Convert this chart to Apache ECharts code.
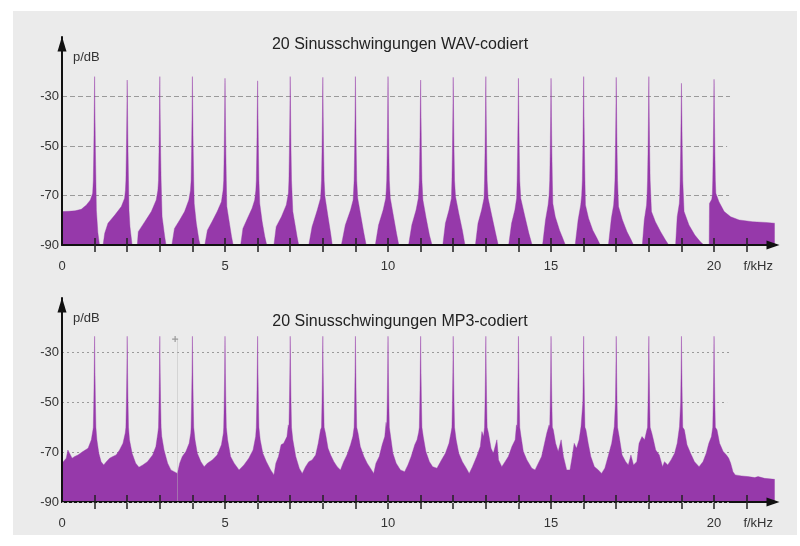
<!DOCTYPE html>
<html>
<head>
<meta charset="utf-8">
<script src="https://cdn.jsdelivr.net/npm/echarts@6/dist/echarts.min.js"></script>
<style>
  html, body { margin: 0; padding: 0; background: #ffffff; }
  #chart { width: 800px; height: 546px; }
</style>
</head>
<body>
<div id="chart"></div>
<script>
// Frequency axis (kHz) and level axis (dB)
const freqTicks = [1, 2, 3, 4, 5, 6, 7, 8, 9, 10, 11, 12, 13, 14, 15, 16, 17, 18, 19, 20, 21];
const freqLabels = [0, 5, 10, 15, 20];
const levelLabels = [-90, -70, -50, -30];
const gridLevels = [-30, -50, -70];
const gridEndFreq = [20.49, 20.4, 20.46];
// dotted reference line drawn along the MP3 baseline
const mp3BaseLevel = -90;
const mp3BaseEndFreq = 20.46;

// Spectrum of the WAV file: [frequency kHz, level dB]
const wavSpectrum = [
  [0,-76.5],[0.2,-76.4],[0.4,-76.2],[0.59,-75.6],[0.75,-73.8],[0.87,-71.8],[0.94,-69.1],
  [0.96,-64],[0.975,-52],[0.988,-38],[1,-22.0],[1.012,-38],[1.025,-52],[1.04,-64],
  [1.055,-76],[1.1,-85],[1.15,-90],
  [1.26,-90],[1.31,-85.3],[1.41,-81.2],[1.62,-77.9],[1.82,-74.5],[1.92,-71.1],[1.945,-68],
  [1.96,-64],[1.975,-52],[1.988,-38],[2,-23.4],[2.012,-38],[2.025,-52],[2.04,-64],
  [2.055,-76],[2.085,-82.6],[2.15,-90],
  [2.31,-90],[2.34,-84.6],[2.54,-80.6],[2.74,-76.5],[2.89,-71.8],[2.94,-68],
  [2.96,-64],[2.975,-52],[2.988,-38],[3,-22.0],[3.012,-38],[3.025,-52],[3.04,-64],
  [3.07,-78.6],[3.15,-86.6],[3.19,-90],
  [3.37,-90],[3.45,-83.3],[3.61,-79.9],[3.76,-76.5],[3.89,-71.8],[3.94,-68],
  [3.96,-64],[3.975,-52],[3.988,-38],[4,-22.0],[4.012,-38],[4.025,-52],[4.04,-64],
  [4.055,-73.2],[4.12,-81.2],[4.2,-88],[4.24,-90],
  [4.38,-90],[4.46,-84],[4.6,-80.6],[4.76,-76.5],[4.89,-72.5],[4.94,-68],
  [4.96,-64],[4.975,-52],[4.988,-38],[5,-22.7],[5.012,-38],[5.025,-52],[5.04,-64],
  [5.055,-74.5],[5.12,-79.9],[5.2,-86.6],[5.25,-90],
  [5.48,-90],[5.55,-83.3],[5.69,-79.2],[5.83,-75.2],[5.91,-71.8],[5.945,-68],
  [5.96,-64],[5.975,-52],[5.988,-38],[6,-23.7],[6.012,-38],[6.025,-52],[6.04,-64],
  [6.065,-73.2],[6.14,-80.6],[6.22,-86.6],[6.28,-90],
  [6.5,-90],[6.57,-82.6],[6.73,-78.6],[6.88,-73.8],[6.945,-69],
  [6.96,-64],[6.975,-52],[6.988,-38],[7,-22.0],[7.012,-38],[7.025,-52],[7.04,-64],
  [7.08,-76.5],[7.15,-81.9],[7.21,-86.6],[7.26,-90],
  [7.57,-90],[7.67,-82.6],[7.83,-75.9],[7.93,-71.1],[7.945,-68],
  [7.96,-64],[7.975,-52],[7.988,-38],[8,-22.3],[8.012,-38],[8.025,-52],[8.04,-64],
  [8.065,-70.4],[8.16,-78.6],[8.24,-85.3],[8.29,-90],
  [8.57,-90],[8.69,-81.9],[8.85,-75.9],[8.93,-71.8],[8.945,-68],
  [8.96,-64],[8.975,-52],[8.988,-38],[9,-22.0],[9.012,-38],[9.025,-52],[9.04,-64],
  [9.07,-71.1],[9.17,-78.6],[9.26,-85.3],[9.33,-90],
  [9.61,-90],[9.71,-81.9],[9.85,-75.9],[9.93,-71.1],[9.945,-68],
  [9.96,-64],[9.975,-52],[9.988,-38],[10,-22.0],[10.012,-38],[10.025,-52],[10.04,-64],
  [10.07,-71.1],[10.17,-78.6],[10.26,-85.3],[10.33,-90],
  [10.63,-90],[10.73,-81.9],[10.86,-75.9],[10.93,-71.1],[10.945,-68],
  [10.96,-64],[10.975,-52],[10.988,-38],[11,-23.4],[11.012,-38],[11.025,-52],[11.04,-64],
  [11.07,-71.8],[11.17,-79.2],[11.27,-86],[11.35,-90],
  [11.68,-90],[11.76,-81.2],[11.87,-75.9],[11.945,-71.1],
  [11.96,-64],[11.975,-52],[11.988,-38],[12,-22.3],[12.012,-38],[12.025,-52],[12.04,-64],
  [12.07,-70.4],[12.17,-77.2],[12.28,-84],[12.36,-90],
  [12.68,-90],[12.76,-81.2],[12.87,-75.9],[12.945,-71.1],
  [12.96,-64],[12.975,-52],[12.988,-38],[13,-22.0],[13.012,-38],[13.025,-52],[13.04,-64],
  [13.07,-71.1],[13.19,-78.6],[13.3,-85.3],[13.38,-90],
  [13.7,-90],[13.79,-81.2],[13.89,-75.9],[13.945,-71.1],
  [13.96,-64],[13.975,-52],[13.988,-38],[14,-22.7],[14.012,-38],[14.025,-52],[14.04,-64],
  [14.07,-71.1],[14.2,-78.6],[14.32,-85.3],[14.42,-90],
  [14.74,-90],[14.83,-79.9],[14.91,-73.8],[14.94,-70],
  [14.96,-64],[14.975,-52],[14.988,-38],[15,-22.7],[15.012,-38],[15.025,-52],[15.04,-64],
  [15.055,-73.2],[15.13,-78.6],[15.26,-84],[15.36,-87.3],[15.44,-90],
  [15.74,-90],[15.83,-79.9],[15.91,-73.8],[15.94,-70],
  [15.96,-64],[15.975,-52],[15.988,-38],[16,-22.0],[16.012,-38],[16.025,-52],[16.04,-64],
  [16.055,-73.8],[16.15,-79.2],[16.28,-84],[16.41,-87.3],[16.51,-90],
  [16.76,-90],[16.85,-79.2],[16.92,-73.8],[16.94,-70],
  [16.96,-64],[16.975,-52],[16.988,-38],[17,-22.3],[17.012,-38],[17.025,-52],[17.04,-64],
  [17.07,-74.5],[17.19,-79.9],[17.33,-84.6],[17.46,-88],[17.53,-90],
  [17.8,-90],[17.86,-79.9],[17.93,-73.8],[17.945,-70],
  [17.96,-64],[17.975,-52],[17.988,-38],[18,-22.0],[18.012,-38],[18.025,-52],[18.04,-64],
  [18.08,-76.5],[18.2,-80.6],[18.36,-84.6],[18.51,-88],[18.61,-90],
  [18.82,-90],[18.87,-78.6],[18.935,-73.2],[18.948,-70],
  [18.96,-64],[18.975,-52],[18.988,-38],[19,-24.7],[19.012,-38],[19.025,-52],[19.04,-64],
  [19.08,-76.5],[19.23,-81.9],[19.41,-86],[19.58,-88.7],[19.69,-90],
  [19.85,-90],[19.86,-73.2],[19.93,-71.5],[19.948,-69.5],
  [19.96,-64],[19.975,-52],[19.988,-38],[20,-23.1],[20.012,-38],[20.025,-52],[20.04,-64],
  [20.055,-69.1],[20.15,-72.5],[20.31,-76.5],[20.51,-78.6],[20.77,-79.9],[21.18,-80.6],
  [21.59,-80.9],[21.86,-81.2]
];

// Spectrum of the MP3 file: [frequency kHz, level dB]
const mp3Spectrum = [
  [0,-74.4],[0.13,-72.4],[0.18,-69.1],[0.23,-68.8],[0.31,-72.4],[0.39,-71.7],[0.49,-71.1],
  [0.64,-69.7],[0.8,-68.4],[0.9,-65],[0.95,-61],
  [0.96,-60],[0.975,-50],[0.988,-38],[1,-23.4],[1.012,-38],[1.025,-50],[1.04,-60],
  [1.07,-65],[1.13,-70.4],[1.2,-73.8],[1.28,-75.1],[1.36,-73.8],[1.46,-72.4],[1.56,-71.7],
  [1.66,-71.1],[1.765,-69.1],[1.87,-66.4],[1.94,-62.3],
  [1.96,-60],[1.975,-50],[1.988,-38],[2,-23.4],[2.012,-38],[2.025,-50],[2.04,-60],
  [2.07,-65],[2.15,-70.4],[2.26,-74.4],[2.36,-76],[2.48,-75.1],[2.62,-73.8],[2.78,-71.1],
  [2.88,-67.7],[2.94,-62.3],
  [2.96,-60],[2.975,-50],[2.988,-38],[3,-23.4],[3.012,-38],[3.025,-50],[3.04,-60],
  [3.06,-63.7],[3.13,-69.1],[3.24,-74.4],[3.34,-77.1],[3.44,-77.8],[3.54,-78.5],
  [3.61,-74.4],[3.69,-71.7],[3.8,-69.7],[3.9,-66.4],[3.95,-62.3],
  [3.96,-60],[3.975,-50],[3.988,-38],[4,-23.4],[4.012,-38],[4.025,-50],[4.04,-60],
  [4.08,-65],[4.15,-70.4],[4.26,-73.8],[4.36,-75.8],[4.46,-74.4],[4.61,-73.1],[4.76,-71.1],
  [4.89,-67],[4.95,-62.3],
  [4.96,-60],[4.975,-50],[4.988,-38],[5,-23.4],[5.012,-38],[5.025,-50],[5.04,-60],
  [5.08,-65],[5.17,-71.7],[5.28,-74.4],[5.43,-77.1],[5.58,-75.1],[5.73,-72.4],[5.86,-69.1],
  [5.94,-63.7],
  [5.96,-60],[5.975,-50],[5.988,-38],[6,-23.4],[6.012,-38],[6.025,-50],[6.04,-60],
  [6.08,-65],[6.16,-70.4],[6.27,-73.8],[6.4,-77.1],[6.5,-79.1],[6.56,-74.4],[6.64,-71.7],
  [6.72,-67],[6.8,-66.4],[6.9,-63.7],[6.94,-59],
  [6.96,-60],[6.975,-50],[6.988,-38],[7,-23.4],[7.012,-38],[7.025,-50],[7.04,-60],
  [7.08,-65],[7.17,-71.7],[7.28,-76.5],[7.37,-78.5],[7.47,-75.8],[7.57,-73.8],[7.67,-73.1],
  [7.78,-71.1],[7.86,-66.4],[7.93,-61],
  [7.96,-60],[7.975,-50],[7.988,-38],[8,-23.4],[8.012,-38],[8.025,-50],[8.04,-60],
  [8.08,-62.3],[8.16,-68.4],[8.24,-71.1],[8.34,-73.8],[8.44,-75.8],[8.54,-77.1],[8.64,-73.8],
  [8.74,-71.1],[8.85,-67],[8.92,-63.7],
  [8.96,-60],[8.975,-50],[8.988,-38],[9,-23.4],[9.012,-38],[9.025,-50],[9.04,-60],
  [9.08,-62.3],[9.15,-67.7],[9.26,-71.7],[9.36,-74.4],[9.46,-76.4],[9.56,-78.5],[9.63,-74.4],
  [9.73,-71.7],[9.82,-67],[9.9,-63.7],[9.94,-58],
  [9.96,-60],[9.975,-50],[9.988,-38],[10,-23.4],[10.012,-38],[10.025,-50],[10.04,-60],
  [10.08,-63.7],[10.15,-70.4],[10.25,-74.4],[10.38,-77.1],[10.51,-77.8],[10.61,-75.1],
  [10.71,-71.7],[10.82,-67],[10.89,-65],[10.94,-62],
  [10.96,-60],[10.975,-50],[10.988,-38],[11,-23.4],[11.012,-38],[11.025,-50],[11.04,-60],
  [11.08,-63.7],[11.16,-69.7],[11.27,-73.8],[11.37,-75.8],[11.5,-76.4],[11.64,-73.1],
  [11.76,-70.4],[11.87,-66.4],[11.93,-62.3],
  [11.96,-60],[11.975,-50],[11.988,-38],[12,-23.4],[12.012,-38],[12.025,-50],[12.04,-60],
  [12.09,-65],[12.17,-70.4],[12.28,-73.8],[12.4,-76.4],[12.49,-78.5],[12.59,-75.8],
  [12.72,-71.7],[12.83,-67.7],[12.88,-61.7],[12.93,-63.7],
  [12.96,-60],[12.975,-50],[12.988,-38],[13,-23.4],[13.012,-38],[13.025,-50],[13.04,-60],
  [13.08,-62.3],[13.16,-68.4],[13.23,-70.4],[13.34,-65],[13.39,-73.1],[13.49,-75.8],
  [13.59,-73.8],[13.69,-71.7],[13.8,-67.7],[13.9,-65],[13.94,-59],
  [13.96,-60],[13.975,-50],[13.988,-38],[14,-23.4],[14.012,-38],[14.025,-50],[14.04,-60],
  [14.08,-63.7],[14.15,-69.7],[14.26,-73.1],[14.41,-76.4],[14.51,-77.1],[14.61,-74.4],
  [14.71,-71.7],[14.8,-66.4],[14.87,-62.3],[14.94,-59],
  [14.96,-60],[14.975,-50],[14.988,-38],[15,-23.4],[15.012,-38],[15.025,-50],[15.04,-60],
  [15.07,-61],[15.14,-66.4],[15.22,-69.7],[15.31,-65],[15.38,-71.7],[15.48,-77.1],
  [15.58,-77.1],[15.65,-71.7],[15.71,-66.4],[15.78,-68.4],[15.86,-65],[15.92,-59.7],
  [15.96,-60],[15.975,-50],[15.988,-38],[16,-23.4],[16.012,-38],[16.025,-50],[16.04,-60],
  [16.07,-61],[16.14,-66.4],[16.22,-71.7],[16.33,-75.8],[16.45,-77.1],[16.55,-78.5],
  [16.65,-76.4],[16.75,-71.7],[16.86,-66.4],[16.94,-59.7],
  [16.96,-60],[16.975,-50],[16.988,-38],[17,-23.4],[17.012,-38],[17.025,-50],[17.04,-60],
  [17.09,-63.7],[17.18,-71.1],[17.29,-73.8],[17.37,-75.1],[17.45,-71.1],[17.53,-75.1],
  [17.63,-73.8],[17.7,-66.4],[17.79,-63.7],[17.87,-65],[17.94,-61],
  [17.96,-60],[17.975,-50],[17.988,-38],[18,-23.4],[18.012,-38],[18.025,-50],[18.04,-60],
  [18.09,-62.3],[18.14,-65],[18.21,-69.1],[18.32,-71.1],[18.42,-75.8],[18.48,-73.8],
  [18.58,-75.1],[18.68,-73.1],[18.79,-70.4],[18.87,-66.4],[18.94,-59.7],
  [18.96,-60],[18.975,-50],[18.988,-38],[19,-23.4],[19.012,-38],[19.025,-50],[19.04,-60],
  [19.09,-61],[19.17,-67],[19.28,-70.4],[19.4,-73.8],[19.54,-75.8],[19.66,-73.8],
  [19.76,-70.4],[19.84,-66.4],[19.92,-63.7],
  [19.96,-60],[19.975,-50],[19.988,-38],[20,-23.4],[20.012,-38],[20.025,-50],[20.04,-60],
  [20.09,-61],[20.17,-66.4],[20.28,-69.7],[20.38,-71.1],[20.45,-72.4],[20.51,-74.4],
  [20.58,-77.8],[20.65,-79.1],[20.84,-79.5],[21.04,-79.8],[21.25,-80.2],[21.35,-79.8],
  [21.55,-80.5],[21.86,-80.9]
];

// Cursor hairline in the MP3 panel
const cursorFreq = 3.53;
const cursorTop = -24.5;

const FONT = '"Liberation Sans", Arial, sans-serif';
const PURPLE = '#9639aa';
const AXIS_COLOR = '#111111';
const TEXT_COLOR = '#333333';

function freqAxes(gridIndex) {
  return [
    {
      type: 'value', gridIndex: gridIndex, position: 'bottom', min: 0, max: 21.9, z: 6,
      axisLine: { show: true, onZero: false, symbol: ['none', 'triangle'], symbolSize: [9, 13],
        symbolOffset: [0, -3], lineStyle: { color: AXIS_COLOR, width: 2 } },
      axisTick: { show: true, inside: true, length: 7, customValues: freqTicks,
        lineStyle: { color: '#222', width: 1.5 } },
      axisLabel: { customValues: freqLabels, margin: 15, color: TEXT_COLOR, fontSize: 13, fontFamily: FONT },
      splitLine: { show: false },
      name: 'f/kHz', nameLocation: 'end', nameGap: -3,
      nameTextStyle: { align: 'right', verticalAlign: 'top', padding: [15, 0, 0, 0],
        color: TEXT_COLOR, fontSize: 13, fontFamily: FONT }
    },
    {
      type: 'value', gridIndex: gridIndex, position: 'bottom', min: 0, max: 21.9, z: 6,
      axisLine: { show: false, onZero: false },
      axisTick: { show: true, inside: false, length: 7, customValues: freqTicks,
        lineStyle: { color: '#222', width: 1.5 } },
      axisLabel: { show: false },
      splitLine: { show: false }
    }
  ];
}

function levelAxis(gridIndex, maxLevel) {
  return {
    type: 'value', gridIndex: gridIndex, min: -90, max: maxLevel, z: 6,
    axisLine: { show: true, onZero: false, symbol: ['none', 'triangle'], symbolSize: [9, 15],
      symbolOffset: [0, -7], lineStyle: { color: AXIS_COLOR, width: 2 } },
    axisTick: { show: false },
    axisLabel: { customValues: levelLabels, margin: 3, color: TEXT_COLOR, fontSize: 13, fontFamily: FONT },
    splitLine: { show: false },
    name: 'p/dB', nameLocation: 'end', nameGap: -20,
    nameTextStyle: { align: 'left', verticalAlign: 'middle', padding: [0, 0, 0, 11],
      color: TEXT_COLOR, fontSize: 13, fontFamily: FONT }
  };
}

function gridLineMarks(dash) {
  return {
    silent: true, symbol: 'none', z: 1, label: { show: false },
    lineStyle: { color: '#9a9a9a', width: 1, type: dash },
    data: gridLevels.map(function (lv, i) {
      return [{ coord: [0, lv] }, { coord: [gridEndFreq[i], lv] }];
    })
  };
}

function spectrumSeries(name, data, xIndex, yIndex) {
  return {
    name: name, type: 'line', xAxisIndex: xIndex, yAxisIndex: yIndex, data: data,
    symbol: 'none', smooth: false, z: 3, silent: true,
    lineStyle: { width: 0.4, color: PURPLE },
    areaStyle: { color: PURPLE, opacity: 1, origin: 'start' }
  };
}

const chart = echarts.init(document.getElementById('chart'), null, { renderer: 'canvas' });
chart.setOption({
  animation: false,
  backgroundColor: '#ffffff',
  graphic: [{
    type: 'rect', left: 13, top: 11, z: -10, silent: true,
    shape: { width: 784, height: 524 }, style: { fill: '#ebebeb' }
  }],
  title: [
    { text: '20 Sinusschwingungen WAV-codiert', left: 'center', top: 32,
      textStyle: { fontFamily: FONT, fontSize: 16, fontWeight: 'normal', color: '#222' } },
    { text: '20 Sinusschwingungen MP3-codiert', left: 'center', top: 309,
      textStyle: { fontFamily: FONT, fontSize: 16, fontWeight: 'normal', color: '#222' } }
  ],
  grid: [
    { left: 62, top: 37, width: 714, height: 208 },
    { left: 62, top: 298, width: 714, height: 204 }
  ],
  xAxis: freqAxes(0).concat(freqAxes(1)),
  yAxis: [levelAxis(0, -6), levelAxis(1, -8)],
  series: [
    { name: 'grid-wav', type: 'line', xAxisIndex: 0, yAxisIndex: 0, data: [], z: 1,
      markLine: gridLineMarks([5, 3]) },
    { name: 'grid-mp3', type: 'line', xAxisIndex: 2, yAxisIndex: 1, data: [], z: 1,
      markLine: gridLineMarks([2, 3]) },
    spectrumSeries('WAV', wavSpectrum, 0, 0),
    spectrumSeries('MP3', mp3Spectrum, 2, 1),
    { name: 'baseline-mp3', type: 'line', xAxisIndex: 2, yAxisIndex: 1, data: [], z: 8,
      markLine: { silent: true, symbol: 'none', z: 8, label: { show: false },
        lineStyle: { color: '#a8a8a8', width: 1.2, type: [2, 3] },
        data: [[{ coord: [0, mp3BaseLevel] }, { coord: [mp3BaseEndFreq, mp3BaseLevel] }]] } },
    { name: 'cursor', type: 'line', xAxisIndex: 2, yAxisIndex: 1, data: [], z: 5,
      markLine: { silent: true, symbol: 'none', z: 5, label: { show: false },
        lineStyle: { color: '#b8b8b8', width: 1, type: 'solid', opacity: 0.45 },
        data: [[{ coord: [cursorFreq, -90] }, { coord: [cursorFreq, cursorTop] }]] },
      markPoint: { silent: true, symbol: 'path://M2,0H3V5H2ZM0,2H5V3H0Z', symbolSize: 6,
        itemStyle: { color: '#9a9a9a' }, label: { show: false },
        data: [{ coord: [cursorFreq - 0.06, cursorTop] }] } }
  ]
});
</script>
</body>
</html>
